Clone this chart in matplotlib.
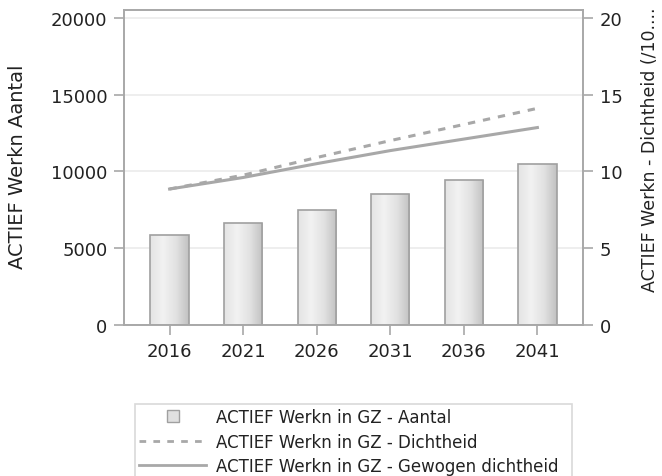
import numpy as np
import matplotlib.pyplot as plt
from matplotlib.lines import Line2D
from matplotlib.colors import LinearSegmentedColormap

plt.rcParams['font.family'] = ['DejaVu Sans']

jaren = ["2016", "2021", "2026", "2031", "2036", "2041"]
aantal = [5850, 6620, 7470, 8500, 9420, 10460]
dichtheid = [8.85, 9.75, 10.9, 12.0, 13.05, 14.1]
gewogen_dichtheid = [8.85, 9.6, 10.5, 11.35, 12.1, 12.85]

W, H = 662, 477
fig = plt.figure(figsize=(W / 100, H / 100), dpi=100)
ax = fig.add_axes([124 / W, 1 - 326 / H, (583 - 124) / W, (326 - 11) / H])
ax2 = ax.twinx()

frame = "#a8a8a8"
lijn = "#a8a8a8"
tekst = "#222222"
x = np.arange(len(jaren))

# balken met verloop
bars = ax.bar(x, aantal, width=0.52, color="none", edgecolor="#a0a0a0", linewidth=1.2, zorder=3)
cmap = LinearSegmentedColormap.from_list("balk", ["#e4e4e4", "#f2f2f2", "#e2e2e2", "#c2c2c2"])
grad = np.linspace(0, 1, 64).reshape(1, -1)
for b in bars:
    im = ax.imshow(grad, cmap=cmap, aspect="auto", zorder=2,
                   extent=[b.get_x(), b.get_x() + b.get_width(), 0, b.get_height()])
    im.set_clip_path(b)

ax.set_xlim(-0.62, 5.62)
ax.set_ylim(0, 20500)
ax.set_yticks([0, 5000, 10000, 15000, 20000])
ax.set_xticks(x)
ax.set_xticklabels(jaren)
ax.yaxis.grid(True, color="#ebebeb", linewidth=1.2, zorder=0)
ax.set_axisbelow(True)

streep = (0, (2.4, 2.6))
ax2.plot(x, dichtheid, color=lijn, linewidth=2.2, linestyle=streep)
ax2.plot(x, gewogen_dichtheid, color=lijn, linewidth=2.2)
ax2.set_ylim(0, 20.5)
ax2.set_yticks([0, 5, 10, 15, 20])

for a in (ax, ax2):
    for s in a.spines.values():
        s.set_color(frame)
        s.set_linewidth(1.2)
    a.tick_params(colors=frame, labelcolor=tekst, labelsize=13, length=7, width=1.2, pad=5)

ax.set_ylabel("ACTIEF Werkn Aantal", fontsize=14, color=tekst)
ax.yaxis.set_label_coords(-0.211, 0.505)
ax2.set_ylabel("ACTIEF Werkn - Dichtheid (/10....", fontsize=12.5, color=tekst)
ax2.yaxis.set_label_coords(1.126, 0.56)

handles = [
    Line2D([], [], marker="s", markersize=9, markerfacecolor="#e0e0e0",
           markeredgecolor="#a0a0a0", linestyle="none"),
    Line2D([], [], color=lijn, linewidth=2, linestyle=streep),
    Line2D([], [], color=lijn, linewidth=2),
]
labels = ["ACTIEF Werkn in GZ - Aantal", "ACTIEF Werkn in GZ - Dichtheid",
          "ACTIEF Werkn in GZ - Gewogen dichtheid"]
leg = fig.legend(handles, labels, loc="upper left", mode="expand",
                 bbox_to_anchor=(135 / W, 0, 437 / W, 1 - 405 / H),
                 fontsize=12, frameon=True, fancybox=False, handlelength=4.0,
                 handletextpad=0.6, labelspacing=0.38, borderpad=0.25, borderaxespad=0)
leg.get_frame().set_edgecolor("#d0d0d0")
leg.get_frame().set_linewidth(1.2)
for t in leg.get_texts():
    t.set_color(tekst)

fig.savefig("out.png", dpi=100)
